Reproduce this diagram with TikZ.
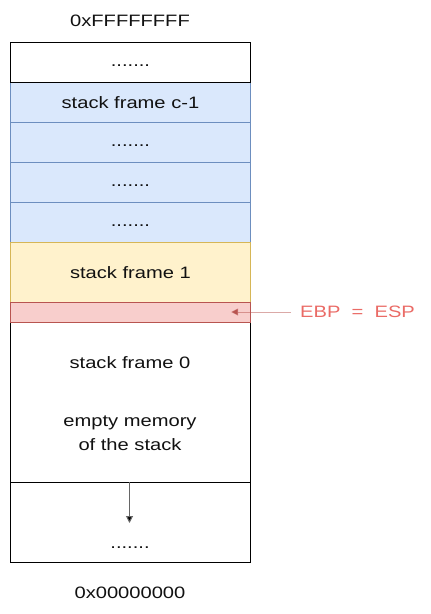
\documentclass[tikz,border=0pt]{standalone}
\usepackage{fontspec}
\setmainfont[FakeStretch=1.22]{Liberation Sans}
\usetikzlibrary{arrows.meta}
\definecolor{bfill}{HTML}{DAE8FC}\definecolor{bline}{HTML}{6C8EBF}
\definecolor{yfill}{HTML}{FFF2CC}\definecolor{yline}{HTML}{D6B656}
\definecolor{rfill}{HTML}{F8CECC}\definecolor{rline}{HTML}{B85450}
\definecolor{rtext}{HTML}{EA6B66}\definecolor{txt}{HTML}{111111}
\newcommand{\mydots}{\vphantom{Ag}.......}
\begin{document}
\begin{tikzpicture}[x=1pt,y=-1pt,
  cell/.style={rectangle,draw,line width=0.9pt,minimum width=240pt,inner sep=0pt,anchor=north west,text=txt,font=\fontsize{16.5}{24}\selectfont},
  bluecell/.style={cell,fill=bfill,draw=bline},
  lbl/.style={text=txt,font=\fontsize{16.5}{24}\selectfont}]
\useasboundingbox (0,0) rectangle (431,614);
\node[lbl] (top) at (130,21) {0xFFFFFFFF};
\node[bluecell,minimum height=40pt] (c1) at (10,82) {stack frame c-1};
\node[bluecell,minimum height=40pt] (d1) at (10,122) {\mydots};
\node[bluecell,minimum height=40pt] (d2) at (10,162) {\mydots};
\node[bluecell,minimum height=40pt] (d3) at (10,202) {\mydots};
\node[cell,minimum height=40pt,fill=white,draw=black] (d0) at (10,42) {\mydots};
\node[cell,minimum height=60pt,fill=yfill,draw=yline] (f1) at (10,242) {stack frame 1};
\node[cell,minimum height=160pt,fill=white,draw=black] (big) at (10,322) {};
\node[cell,minimum height=20pt,fill=rfill,draw=rline] (ebp) at (10,302) {};
\node[cell,minimum height=80pt,fill=white,draw=black] (low) at (10,482) {};
\node[lbl] (f0) at (130,363) {stack frame 0};
\node[lbl,align=center] (empty) at (130,433) {empty memory\\of the stack};
\node[lbl] (dots) at (130,545) {\mydots};
\node[lbl] (bot) at (130,593) {0x00000000};
\node[text=rtext,font=\fontsize{16.5}{20}\selectfont,anchor=west,inner sep=0pt] (reg) at (300,312) {EBP\ \ =\ \ ESP};
\coordinate (tip) at (231,312);
\draw[rline,draw opacity=0.5,line width=1pt,shorten <=9pt,-{Triangle[length=7pt,width=7pt]}] (reg.west) -- (tip);
\coordinate (gtop) at (129.5,482);
\coordinate (gend) at (129.5,523);
\draw[gray!80!black,line width=1pt,-{Triangle[length=7pt,width=7pt,fill=black]}] (gtop) -- (gend);
\end{tikzpicture}
\end{document}
